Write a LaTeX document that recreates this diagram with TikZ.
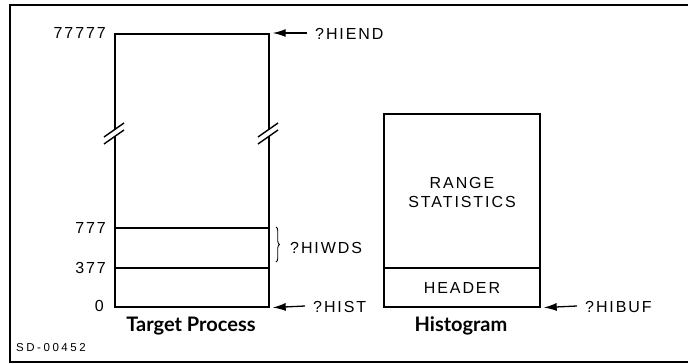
\documentclass[tikz,border=0pt]{standalone}
\usepackage{fontspec}
\setmainfont{Liberation Sans}[LetterSpace=12]
\newfontfamily\codefont{Liberation Sans}[LetterSpace=22]
\newfontfamily\titlefont{Lato}
\usetikzlibrary{arrows.meta,decorations.pathreplacing,calc}
\begin{document}
\begin{tikzpicture}[x=1pt,y=-1pt,
  membox/.style={draw, line width=1.7pt, inner sep=0pt, anchor=north west},
  divider/.style={line width=1.5pt},
  addr/.style={font=\fontsize{16}{16}\selectfont, anchor=east, inner sep=0pt},
  sym/.style={font=\fontsize{16}{16}\selectfont, anchor=west, inner sep=0pt},
  inbox/.style={font=\fontsize{16}{19}\selectfont, align=center, inner sep=0pt},
  caption/.style={font=\titlefont\bfseries\fontsize{20}{20}\selectfont, inner sep=0pt},
  pointer/.style={line width=1.3pt, -{Latex[length=13pt,width=8pt]}, shorten >=3pt},
  breakmark/.style={line width=1.4pt}]
\useasboundingbox (0,0) rectangle (688,364);
% frame, open on the right
\draw[line width=1.2pt] (688,5) -- (10,5) -- (10,362) -- (688,362);
\node[font=\codefont\fontsize{11.5}{11.5}\selectfont, anchor=west, inner sep=0pt] (sd) at (16,348) {SD-00452};

% target process memory
\node[membox, minimum width=154pt, minimum height=273pt] (tp) at (114,33) {};
\coordinate (d777w) at (114,228); \coordinate (d777e) at (268,228);
\coordinate (d377w) at (114,268); \coordinate (d377e) at (268,268);
\draw[divider] (d777w) -- (d777e);
\draw[divider] (d377w) -- (d377e);
% break marks on both sides
\foreach \bx in {114,268}{
  \fill[white] (\bx-3,130) rectangle (\bx+3,136);
  \draw[breakmark] (\bx-10,137) -- (\bx+10,123);
  \draw[breakmark] (\bx-10,144) -- (\bx+10,130);
}
\node[addr] (a77777) at (106,33) {77777};
\node[addr] (a777) at (106,228) {777};
\node[addr] (a377) at (106,268) {377};
\node[addr] (a0) at (104,306) {0};
\node[caption] (tpcap) at (191,326) {Target Process};

\node[sym] (hiend) at (315,34) {?HIEND};
\draw[pointer] ($(hiend.west)+(-8,-1)$) -- (tp.north east);
\node[sym] (hist) at (313,307) {?HIST};
\draw[pointer] ($(hist.west)+(-8,-1)$) -- (tp.south east);
\draw[line width=0.9pt, decorate, decoration={brace, amplitude=3.5pt}] (276,227) -- (276,262);
\node[sym] (hiwds) at (290,248) {?HIWDS};

% histogram buffer
\node[membox, minimum width=156pt, minimum height=193pt] (hg) at (383,113) {};
\coordinate (hdw) at (383,268); \coordinate (hde) at (539,268);
\draw[divider] (hdw) -- (hde);
\node[inbox] (range) at (462,192) {RANGE\\STATISTICS};
\node[inbox] (header) at (462,288) {HEADER};
\node[caption] (hgcap) at (461,326) {Histogram};
\node[sym] (hibuf) at (585,307) {?HIBUF};
\draw[pointer] ($(hibuf.west)+(-8,-1)$) -- (hg.south east);
\end{tikzpicture}
\end{document}
